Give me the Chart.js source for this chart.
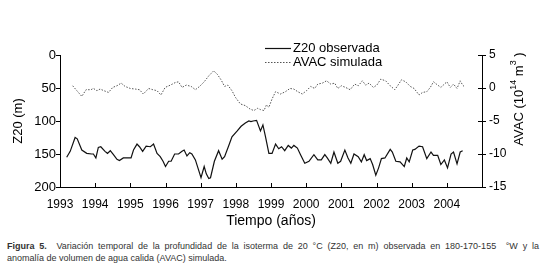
<!DOCTYPE html>
<html>
<head>
<meta charset="utf-8">
<script src="https://cdn.jsdelivr.net/npm/chart.js@4.4.1/dist/chart.umd.min.js"></script>
<style>
  body { margin: 0; background: #fff; font-family: "Liberation Sans", Arial, sans-serif; }
  #wrap { position: relative; width: 550px; height: 267px; }
  #caption { position: absolute; left: 7px; top: 240px; width: 532px; font-size: 9px; line-height: 12px; color: #333; }
  #caption .l1 { text-align: justify; text-align-last: justify; white-space: nowrap; }
</style>
</head>
<body>
<div id="wrap">
  <canvas id="chart" width="550" height="232"></canvas>
  <div id="caption">
    <div class="l1"><b>Figura 5.</b>&nbsp; Variación temporal de la profundidad de la isoterma de 20 °C (Z20, en m) observada en 180-170-155 &nbsp;°W y la</div>
    <div>anomalía de volumen de agua calida (AVAC) simulada.</div>
  </div>
</div>
<script>
"use strict";
// Z20 observada (m)
const z20Years = [1993.19, 1993.29, 1993.43, 1993.49, 1993.62, 1993.76, 1993.90, 1993.95, 1994.02, 1994.09,
  1994.16, 1994.28, 1994.35, 1994.43, 1994.52, 1994.62, 1994.69, 1994.80, 1994.90, 1995.02,
  1995.09, 1995.19, 1995.26, 1995.35, 1995.45, 1995.57, 1995.66, 1995.76, 1995.85, 1995.93,
  1996.00, 1996.09, 1996.16, 1996.26, 1996.37, 1996.47, 1996.53, 1996.61, 1996.69, 1996.75,
  1996.85, 1996.94, 1997.01, 1997.10, 1997.16, 1997.23, 1997.28, 1997.39, 1997.51, 1997.61,
  1997.68, 1997.80, 1997.89, 1998.04, 1998.15, 1998.27, 1998.37, 1998.43, 1998.49, 1998.59,
  1998.70, 1998.77, 1998.84, 1998.94, 1999.03, 1999.13, 1999.22, 1999.30, 1999.39, 1999.49,
  1999.58, 1999.65, 1999.75, 1999.84, 1999.96, 2000.08, 2000.22, 2000.33, 2000.43, 2000.53,
  2000.60, 2000.70, 2000.79, 2000.90, 2000.98, 2001.10, 2001.19, 2001.27, 2001.36, 2001.48,
  2001.57, 2001.65, 2001.72, 2001.82, 2001.89, 2001.98, 2002.06, 2002.14, 2002.24, 2002.39,
  2002.45, 2002.55, 2002.67, 2002.79, 2002.86, 2002.93, 2003.03, 2003.09, 2003.21, 2003.31,
  2003.43, 2003.55, 2003.62, 2003.74, 2003.83, 2003.93, 2004.02, 2004.12, 2004.19, 2004.29,
  2004.38, 2004.45];
const z20Depth = [155, 146, 125, 127, 144, 149, 150, 150, 156, 140,
  139, 146, 149, 145, 151, 158, 160, 156, 156, 156,
  144, 135, 139, 146, 138, 139, 135, 149, 154, 161,
  169, 161, 161, 150, 150, 146, 144, 153, 148, 150,
  159, 174, 186, 169, 180, 187, 186, 161, 145, 158,
  154, 137, 124, 115, 108, 103, 100, 101, 100, 99,
  115, 106, 123, 149, 149, 135, 142, 139, 145, 137,
  141, 137, 141, 151, 164, 161, 151, 159, 159, 151,
  156, 164, 147, 164, 161, 144, 156, 164, 150, 154,
  162, 151, 160, 157, 166, 182, 171, 157, 156, 143,
  147, 161, 162, 169, 156, 162, 144, 143, 138, 139,
  157, 147, 152, 152, 166, 159, 171, 150, 147, 165,
  147, 145];

// AVAC simulada (10^14 m^3)
const avacYears = [1993.36, 1993.48, 1993.62, 1993.74, 1993.88, 1993.95, 1994.05, 1994.14, 1994.25, 1994.38,
  1994.50, 1994.62, 1994.74, 1994.85, 1995.00, 1995.14, 1995.26, 1995.37, 1995.52, 1995.64,
  1995.76, 1995.87, 1995.99, 1996.14, 1996.28, 1996.37, 1996.47, 1996.59, 1996.73, 1996.85,
  1996.97, 1997.10, 1997.23, 1997.37, 1997.47, 1997.58, 1997.68, 1997.77, 1997.89, 1997.99,
  1998.13, 1998.27, 1998.40, 1998.51, 1998.62, 1998.70, 1998.80, 1998.87, 1998.94, 1999.03,
  1999.13, 1999.27, 1999.41, 1999.54, 1999.65, 1999.76, 1999.89, 2000.01, 2000.13, 2000.24,
  2000.33, 2000.46, 2000.58, 2000.70, 2000.81, 2000.90, 2001.00, 2001.12, 2001.25, 2001.38,
  2001.48, 2001.60, 2001.69, 2001.79, 2001.91, 2002.01, 2002.12, 2002.26, 2002.39, 2002.52,
  2002.60, 2002.71, 2002.83, 2002.96, 2003.07, 2003.21, 2003.31, 2003.43, 2003.53, 2003.62,
  2003.74, 2003.83, 2003.93, 2004.00, 2004.10, 2004.19, 2004.29, 2004.38, 2004.45, 2004.52];
const avacValues = [0.34, -0.41, -1.27, -0.26, -0.26, -0.06, -0.41, -0.16, -0.41, -0.67,
  0.09, 0.34, 0.74, 0.24, -0.07, -0.16, -0.26, -0.91, -0.07, -0.26,
  -0.41, -1.06, 0.09, 0.44, 0.83, 0.94, 0.09, 0.44, 0.24, -0.26,
  0.24, 0.94, 1.84, 2.6, 2.1, 1.24, 0.24, 0.44, -0.41, -1.42,
  -2.42, -2.67, -3.17, -3.42, -3.08, -3.27, -3.42, -2.57, -2.92, -1.66,
  -0.56, -0.91, -0.56, -0.07, -0.16, -0.56, -0.91, -0.41, 0.24, -0.07,
  0.59, 0.74, 1.09, 0.59, 0.74, -0.07, 0.34, 0.09, -0.26, 0.59,
  0.34, 1.09, 0.44, 0.74, 0.09, 0.44, 1.34, 1.09, 0.34, -0.26,
  0.34, 1.24, 0.94, 0.24, -0.07, -1.06, -0.67, -0.56, 0.09, 0.94,
  0.44, 0.09, 0.59, 0.94, 0.09, 0.59, -0.07, 1.09, 0.44, 0.09];

const seriesNames = ['Z20 observada', 'AVAC simulada'];
const yearMin = 1993, yearMax = 2005;

const FONT = '"Liberation Sans", Arial, sans-serif';

// marcas de los ejes: hacia dentro en X, hacia fuera a la izquierda, cruzadas a la derecha
const tickMarks = {
  id: 'tickMarks',
  afterDraw(chart) {
    const { ctx, scales: { x, yZ, yA } } = chart;
    ctx.save();
    ctx.strokeStyle = '#000';
    ctx.lineWidth = 1;
    ctx.beginPath();
    x.ticks.forEach(t => {
      const px = Math.round(x.getPixelForValue(t.value)) + 0.5;
      ctx.moveTo(px, x.top); ctx.lineTo(px, x.top - 4);
    });
    yZ.ticks.forEach(t => {
      const py = Math.round(yZ.getPixelForValue(t.value)) + 0.5;
      ctx.moveTo(yZ.right, py); ctx.lineTo(yZ.right - 4, py);
    });
    yA.ticks.forEach(t => {
      const py = Math.round(yA.getPixelForValue(t.value)) + 0.5;
      ctx.moveTo(yA.left - 4, py); ctx.lineTo(yA.left + 4, py);
    });
    ctx.stroke();

    // titulo del eje derecho con superindices
    ctx.translate(yA.left + 37, (yA.top + yA.bottom) / 2 - 22);
    ctx.rotate(-Math.PI / 2);
    ctx.fillStyle = '#000';
    ctx.textBaseline = 'middle';
    const parts = [['AVAC (10', 13, 0], ['14', 9, -5], [' m', 13, 0], ['3', 9, -5], [' )', 13, 0]];
    let w = 0;
    parts.forEach(p => { ctx.font = p[1] + 'px ' + FONT; w += ctx.measureText(p[0]).width; });
    let cx = -w / 2;
    parts.forEach(p => {
      ctx.font = p[1] + 'px ' + FONT;
      ctx.fillText(p[0], cx, p[2]);
      cx += ctx.measureText(p[0]).width;
    });
    ctx.restore();
  }
};

const customLegend = {
  id: 'customLegend',
  afterDraw(chart) {
    const { ctx } = chart;
    ctx.save();
    chart.data.datasets.forEach((ds, i) => {
      const y = Math.round(48 + i * 13.5) + 0.5;
      ctx.strokeStyle = ds.borderColor;
      ctx.lineWidth = ds.borderWidth;
      ctx.setLineDash(ds.borderDash || []);
      ctx.beginPath();
      ctx.moveTo(265, y); ctx.lineTo(291, y);
      ctx.stroke();
      ctx.setLineDash([]);
      ctx.fillStyle = '#000';
      ctx.font = '13px ' + FONT;
      ctx.textBaseline = 'middle';
      ctx.fillText(ds.label, 293, y);
    });
    ctx.restore();
  }
};

new Chart(document.getElementById('chart'), {
  type: 'line',
  data: {
    datasets: [
      {
        label: seriesNames[0],
        data: z20Years.map((yr, i) => ({ x: yr, y: z20Depth[i] })),
        yAxisID: 'yZ',
        borderColor: '#111',
        borderWidth: 1.2,
        pointRadius: 0,
        tension: 0
      },
      {
        label: seriesNames[1],
        data: avacYears.map((yr, i) => ({ x: yr, y: avacValues[i] })),
        yAxisID: 'yA',
        borderColor: '#555',
        borderWidth: 1,
        borderDash: [1.5, 1.5],
        pointRadius: 0,
        tension: 0
      }
    ]
  },
  options: {
    responsive: false,
    animation: false,
    devicePixelRatio: 1,
    layout: { padding: { top: 55, left: 0, right: 0, bottom: 0 } },
    plugins: { legend: { display: false }, tooltip: { enabled: false } },
    scales: {
      x: {
        type: 'linear',
        min: yearMin, max: yearMax,
        afterFit: s => { s.height = 45; },
        grid: { display: true, drawOnChartArea: false, drawTicks: false },
        border: { display: true, color: '#000', width: 1 },
        ticks: {
          stepSize: 1, padding: 10, color: '#000', maxRotation: 0, autoSkip: false,
          font: { family: FONT, size: 12 },
          callback: v => (v < yearMax ? String(v) : '')
        },
        title: { display: true, text: 'Tiempo (años)', color: '#000', font: { family: FONT, size: 14 }, padding: { top: 0, bottom: 2 } }
      },
      yZ: {
        position: 'left',
        reverse: true,
        min: 0, max: 200,
        afterFit: s => { s.width = 60; },
        grid: { display: true, drawOnChartArea: false, drawTicks: false },
        border: { display: true, color: '#000', width: 1 },
        ticks: { stepSize: 50, padding: 4, color: '#000', font: { family: FONT, size: 13 } },
        title: { display: true, text: 'Z20 (m)', color: '#000', font: { family: FONT, size: 13 }, padding: { top: 11, bottom: 0 } }
      },
      yA: {
        position: 'right',
        min: -15, max: 5,
        afterFit: s => { s.width = 68; },
        grid: { display: true, drawOnChartArea: false, drawTicks: false },
        border: { display: true, color: '#000', width: 1 },
        ticks: { stepSize: 5, padding: 7, color: '#000', font: { family: FONT, size: 12 } }
      }
    }
  },
  plugins: [tickMarks, customLegend]
});
</script>
</body>
</html>
